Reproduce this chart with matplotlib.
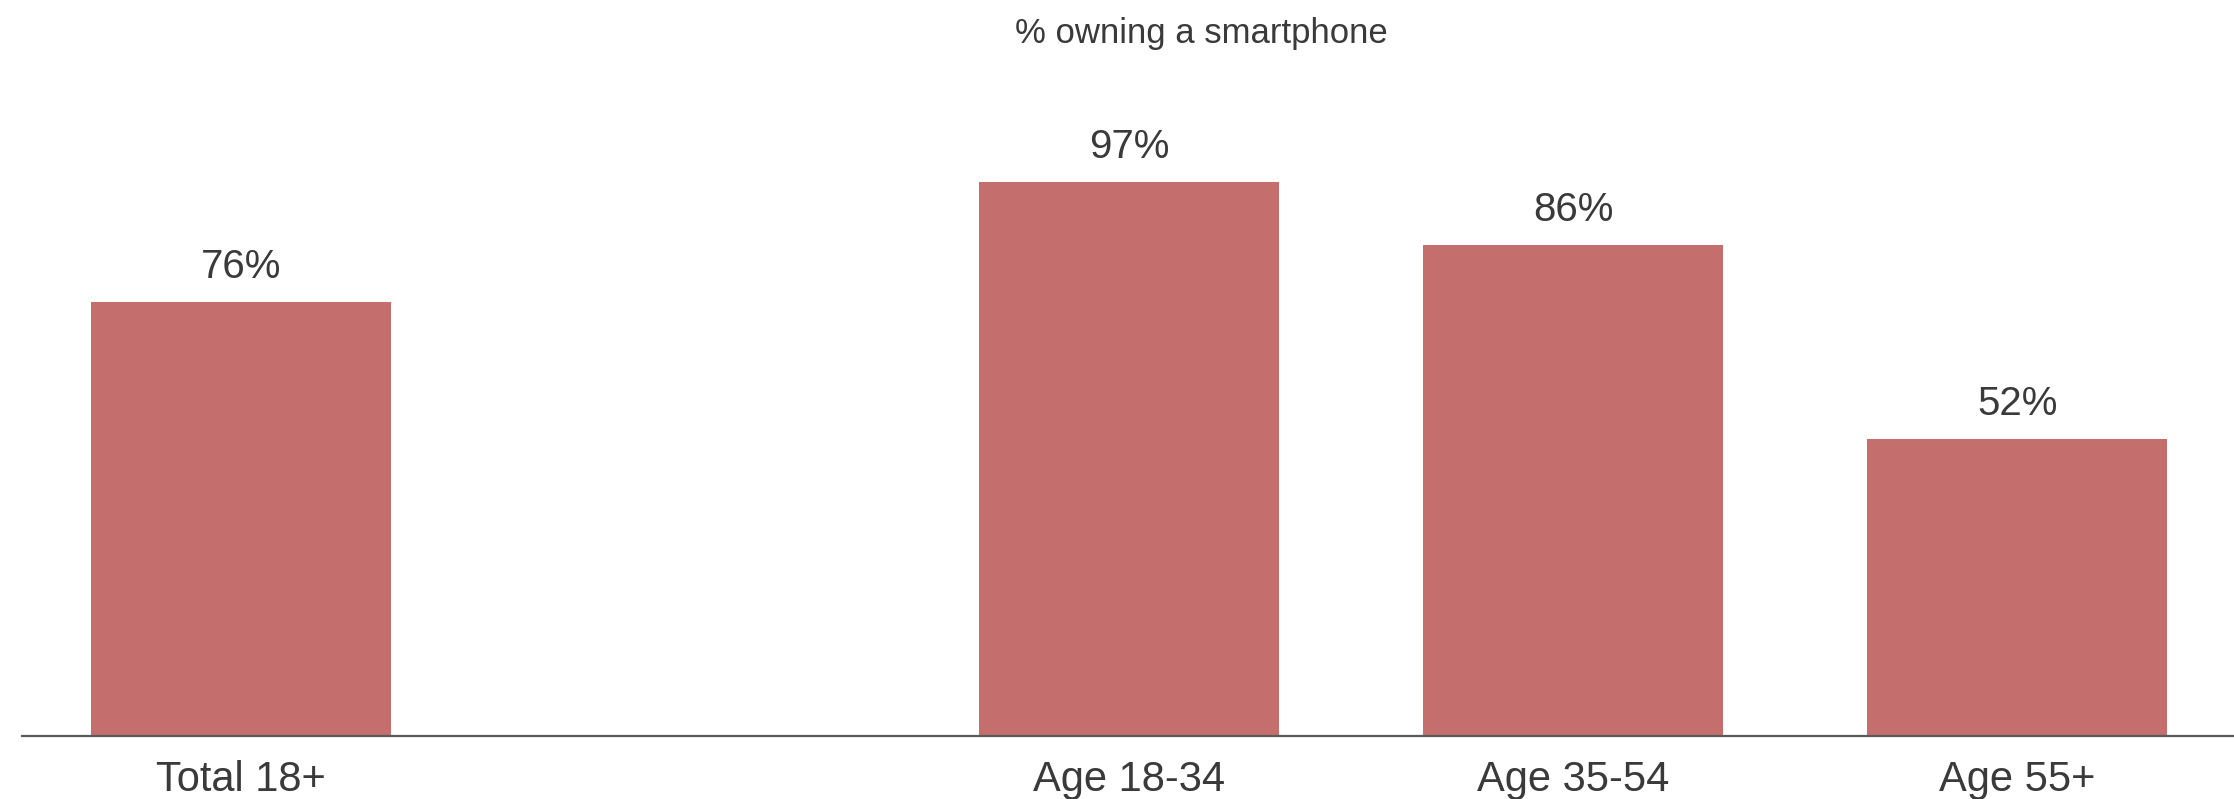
import matplotlib.pyplot as plt

plt.rcParams['font.family'] = ['Liberation Sans', 'DejaVu Sans']

categories = ["Total 18+", "Age 18-34", "Age 35-54", "Age 55+"]
values = [76, 97, 86, 52]
positions = [0, 2, 3, 4]  # empty slot between total and age groups

bar_color = "#C46E6D"
text_color = "#3A3A3A"

fig = plt.figure(figsize=(22.34, 7.99), dpi=100)
ax = fig.add_axes([22 / 2234, 63 / 799, 1 - 22 / 2234, 736 / 799])

ax.bar(positions, values, width=0.676, color=bar_color)

for x, v in zip(positions, values):
    ax.annotate(f"{v}%", (x, v), xytext=(0, 17.5), textcoords="offset points",
                ha="center", va="baseline", fontsize=29, color=text_color)

ax.set_xlim(-0.494, 4.488)
ax.set_ylim(0, 128.9)
ax.set_xticks(positions)
ax.set_xticklabels(categories, fontsize=30, color=text_color)
ax.tick_params(axis="x", length=0, pad=17)
ax.set_yticks([])

for side in ["top", "right", "left"]:
    ax.spines[side].set_visible(False)
ax.spines["bottom"].set_color("#5A5A5A")
ax.spines["bottom"].set_linewidth(1.6)

fig.text(1201 / 2234, 1 - 33 / 799, "% owning a smartphone", ha="center", va="center",
         fontsize=25, color=text_color)

fig.savefig("out.png", dpi=100)
